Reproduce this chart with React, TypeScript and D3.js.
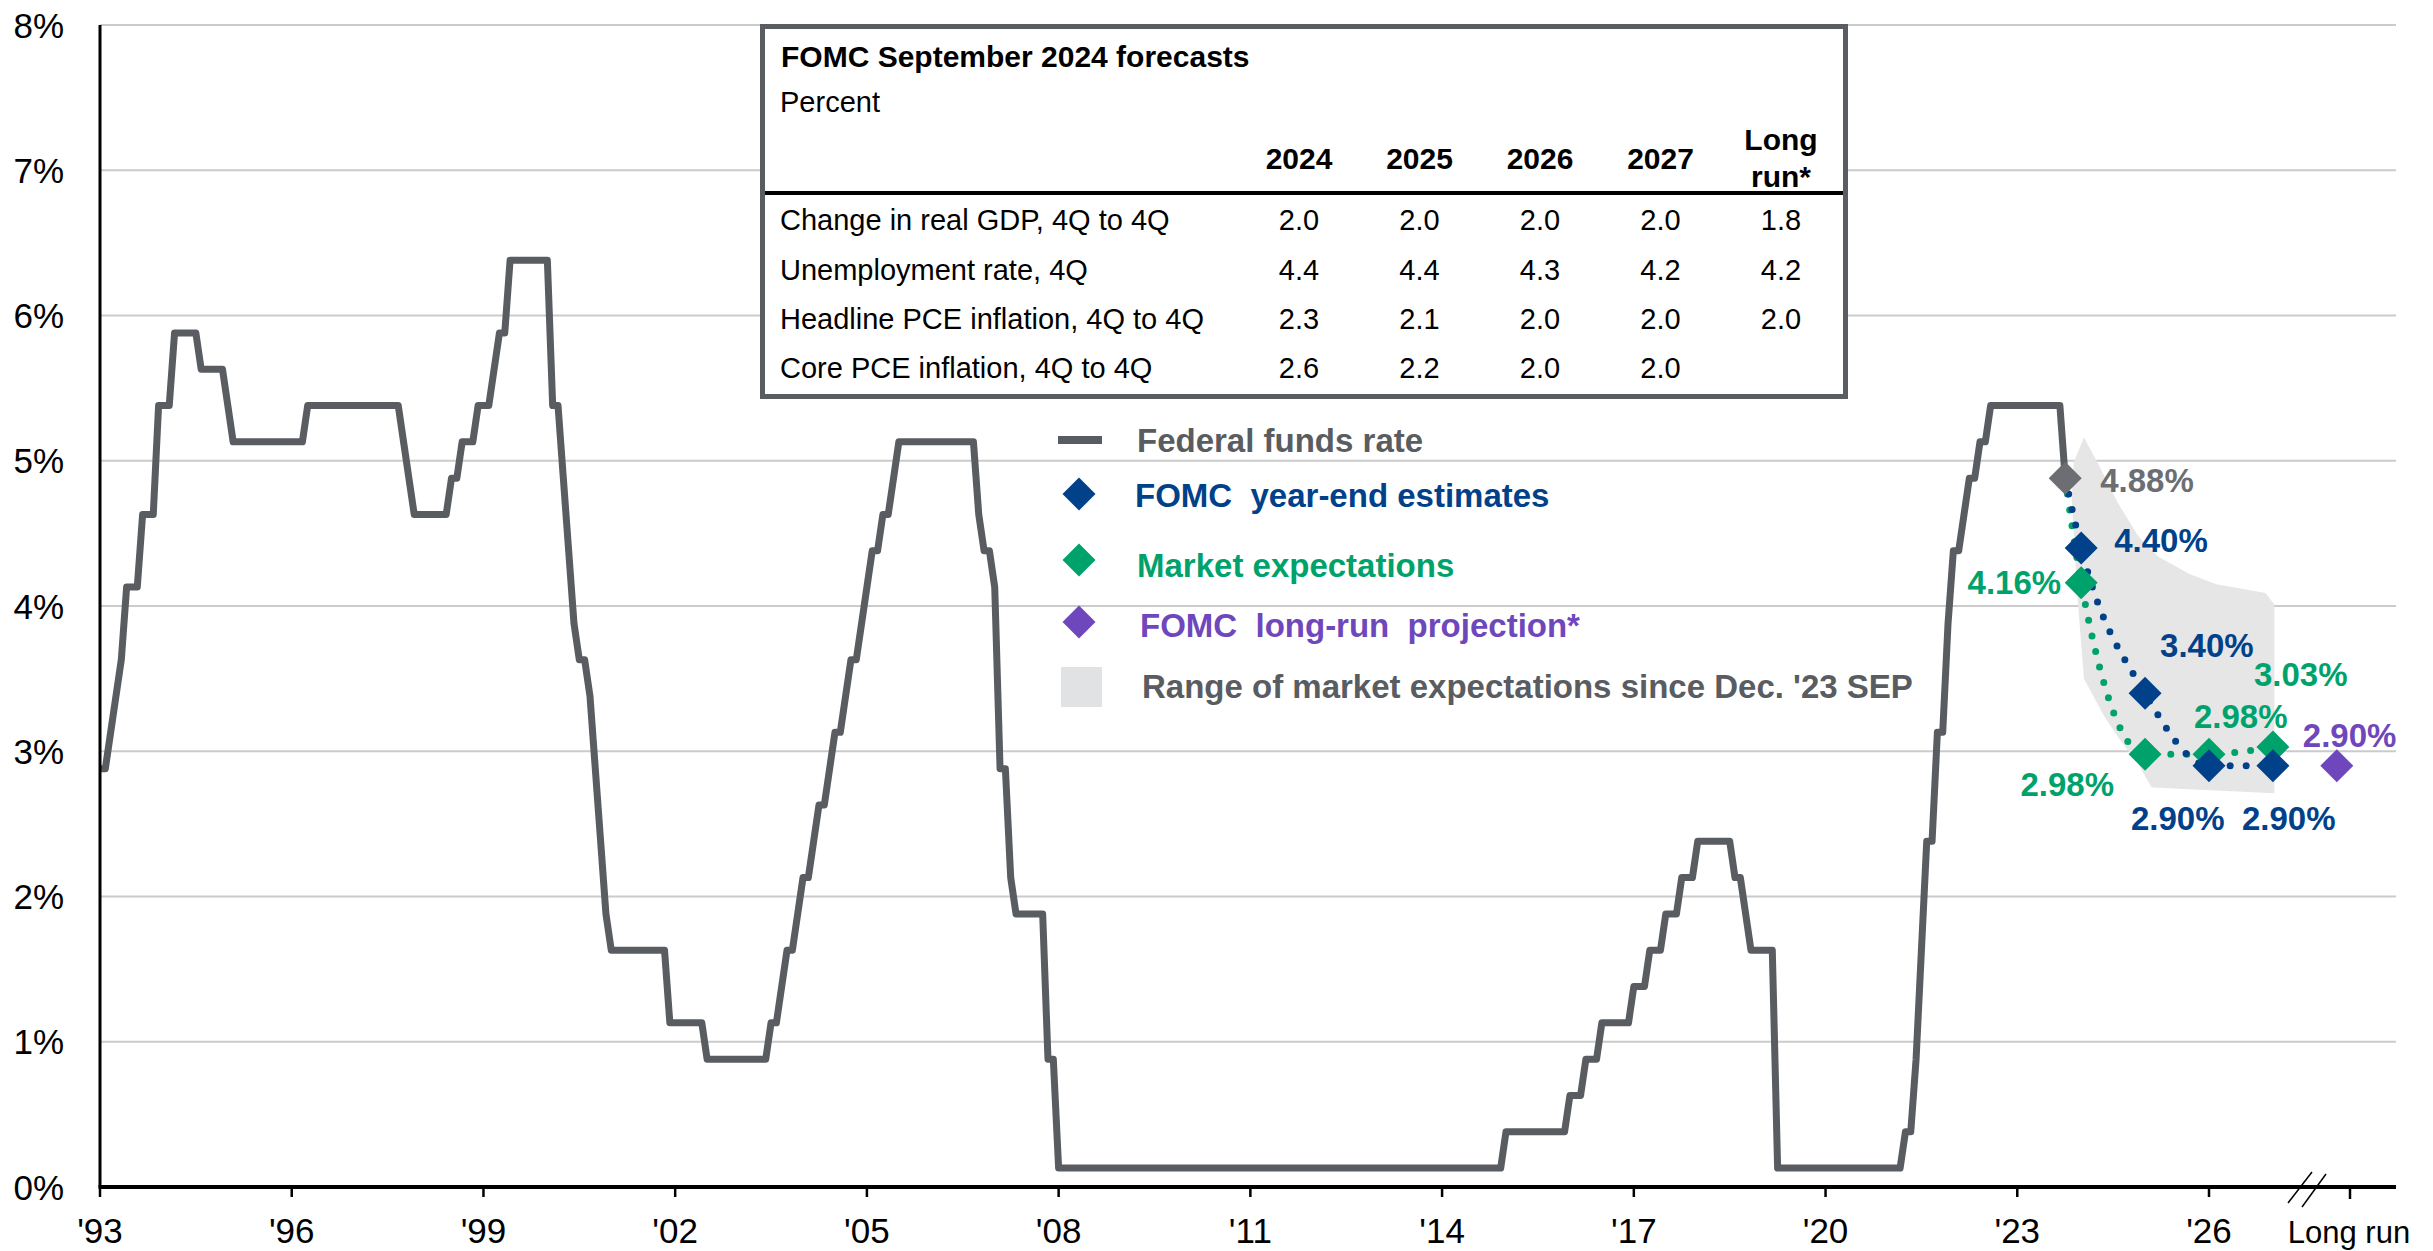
import React from 'react';
import * as d3 from 'd3';

const W = 2433;
const H = 1251;
const FONT = '"Liberation Sans", Arial, Helvetica, sans-serif';

// federal funds rate, month-end points where the line bends
const fedFundsRate: [string, number][] = [
  ['1993-12', 2.88], ['1994-01', 2.88], ['1994-02', 3.13], ['1994-03', 3.38], ['1994-04', 3.63],
  ['1994-05', 4.13], ['1994-07', 4.13], ['1994-08', 4.63], ['1994-10', 4.63], ['1994-11', 5.38],
  ['1995-01', 5.38], ['1995-02', 5.88], ['1995-06', 5.88], ['1995-07', 5.63], ['1995-11', 5.63],
  ['1995-12', 5.38], ['1996-01', 5.13], ['1997-02', 5.13], ['1997-03', 5.38], ['1998-08', 5.38],
  ['1998-09', 5.13], ['1998-10', 4.88], ['1998-11', 4.63], ['1999-05', 4.63], ['1999-06', 4.88],
  ['1999-07', 4.88], ['1999-08', 5.13], ['1999-10', 5.13], ['1999-11', 5.38], ['2000-01', 5.38],
  ['2000-02', 5.63], ['2000-03', 5.88], ['2000-04', 5.88], ['2000-05', 6.38], ['2000-12', 6.38],
  ['2001-01', 5.38], ['2001-02', 5.38], ['2001-03', 4.88], ['2001-04', 4.38], ['2001-05', 3.88],
  ['2001-06', 3.63], ['2001-07', 3.63], ['2001-08', 3.38], ['2001-09', 2.88], ['2001-10', 2.38],
  ['2001-11', 1.88], ['2001-12', 1.63], ['2002-10', 1.63], ['2002-11', 1.13], ['2003-05', 1.13],
  ['2003-06', 0.88], ['2004-05', 0.88], ['2004-06', 1.13], ['2004-07', 1.13], ['2004-08', 1.38],
  ['2004-09', 1.63], ['2004-10', 1.63], ['2004-11', 1.88], ['2004-12', 2.13], ['2005-01', 2.13],
  ['2005-02', 2.38], ['2005-03', 2.63], ['2005-04', 2.63], ['2005-05', 2.88], ['2005-06', 3.13],
  ['2005-07', 3.13], ['2005-08', 3.38], ['2005-09', 3.63], ['2005-10', 3.63], ['2005-11', 3.88],
  ['2005-12', 4.13], ['2006-01', 4.38], ['2006-02', 4.38], ['2006-03', 4.63], ['2006-04', 4.63],
  ['2006-05', 4.88], ['2006-06', 5.13], ['2007-08', 5.13], ['2007-09', 4.63], ['2007-10', 4.38],
  ['2007-11', 4.38], ['2007-12', 4.13], ['2008-01', 2.88], ['2008-02', 2.88], ['2008-03', 2.13],
  ['2008-04', 1.88], ['2008-09', 1.88], ['2008-10', 0.88], ['2008-11', 0.88], ['2008-12', 0.13],
  ['2015-11', 0.13], ['2015-12', 0.38], ['2016-11', 0.38], ['2016-12', 0.63], ['2017-02', 0.63],
  ['2017-03', 0.88], ['2017-05', 0.88], ['2017-06', 1.13], ['2017-11', 1.13], ['2017-12', 1.38],
  ['2018-02', 1.38], ['2018-03', 1.63], ['2018-05', 1.63], ['2018-06', 1.88], ['2018-08', 1.88],
  ['2018-09', 2.13], ['2018-11', 2.13], ['2018-12', 2.38], ['2019-06', 2.38], ['2019-07', 2.13],
  ['2019-08', 2.13], ['2019-09', 1.88], ['2019-10', 1.63], ['2020-02', 1.63], ['2020-03', 0.13],
  ['2022-02', 0.13], ['2022-03', 0.38], ['2022-04', 0.38], ['2022-05', 0.88], ['2022-06', 1.63],
  ['2022-07', 2.38], ['2022-08', 2.38], ['2022-09', 3.13], ['2022-10', 3.13], ['2022-11', 3.88],
  ['2022-12', 4.38], ['2023-01', 4.38], ['2023-02', 4.63], ['2023-03', 4.88], ['2023-04', 4.88],
  ['2023-05', 5.13], ['2023-06', 5.13], ['2023-07', 5.38], ['2024-08', 5.38], ['2024-09', 4.88],
];

const latestPoint: [string, number] = ['2024-09', 4.88];
const projDates = ['2024-12', '2025-12', '2026-12', '2027-12'];
const fomcMedian = [4.40, 3.40, 2.90, 2.90];
const marketExp = [4.16, 2.98, 2.98, 3.03];
const longRunDate = '2028-12';
const longRunValue = 2.90;

// outline of the grey band (decimal year, percent), clockwise from the top
const rangeOutline: [number, number][] = [
  [2024.96, 5.16], [2025.17, 4.99], [2025.49, 4.71], [2025.81, 4.48], [2026.12, 4.34],
  [2026.61, 4.22], [2027.03, 4.15], [2027.41, 4.12], [2027.80, 4.09], [2027.94, 4.01],
  [2027.94, 2.71], [2026.02, 2.75], [2025.81, 2.91], [2025.49, 3.10], [2025.28, 3.24],
  [2024.96, 3.50], [2024.85, 4.11], [2024.77, 4.74], [2024.80, 4.99],
];

const xTickYears = [1993, 1996, 1999, 2002, 2005, 2008, 2011, 2014, 2017, 2020, 2023, 2026];
const yTicks = [0, 1, 2, 3, 4, 5, 6, 7, 8];

const tableCols = ['2024', '2025', '2026', '2027'];
const tableRows = [
  'Change in real GDP, 4Q to 4Q',
  'Unemployment rate, 4Q',
  'Headline PCE inflation, 4Q to 4Q',
  'Core PCE inflation, 4Q to 4Q',
];
const tableValues = [
  ['2.0', '2.0', '2.0', '2.0', '1.8'],
  ['4.4', '4.4', '4.3', '4.2', '4.2'],
  ['2.3', '2.1', '2.0', '2.0', '2.0'],
  ['2.6', '2.2', '2.0', '2.0', ''],
];

const GREY = '#595c60';
const BLUE = '#00418a';
const GREEN = '#00a26c';
const PURPLE = '#6f47bd';
const DARKGREY = '#6d6e71';

const toYear = (s: string) => {
  const [y, m] = s.split('-').map(Number);
  return y + (m - 1) / 12;
};

const diamond = 'M0,-16.5L16.5,0L0,16.5L-16.5,0Z';

export default function App() {
  const x = d3.scaleLinear().domain([1993 + 11 / 12, 2026 + 11 / 12]).range([100, 2209]);
  const y = d3.scaleLinear().domain([0, 8]).range([1187, 25]);
  const xEnd = 2396;

  const line = d3.line<[number, number]>().x(d => x(d[0])).y(d => y(d[1]));
  const smooth = d3.line<[number, number]>().x(d => x(d[0])).y(d => y(d[1])).curve(d3.curveMonotoneX);

  const ffPts: [number, number][] = fedFundsRate.map(d => [toYear(d[0]), d[1]]);
  const start: [number, number] = [toYear(latestPoint[0]), latestPoint[1]];
  const fomcPts: [number, number][] = projDates.map((d, i) => [toYear(d), fomcMedian[i]]);
  const mktPts: [number, number][] = projDates.map((d, i) => [toYear(d), marketExp[i]]);
  const lrPt: [number, number] = [toYear(longRunDate), longRunValue];

  const rangePath = d3.line<[number, number]>().x(d => x(d[0])).y(d => y(d[1]))
    .curve(d3.curveLinearClosed)(rangeOutline);

  const labels = [
    { t: '4.88%', p: start, dx: 35, dy: 14, a: 'start', c: DARKGREY },
    { t: '4.40%', p: fomcPts[0], dx: 33, dy: 4, a: 'start', c: BLUE },
    { t: '4.16%', p: mktPts[0], dx: -20, dy: 11, a: 'end', c: GREEN },
    { t: '3.40%', p: fomcPts[1], dx: 15, dy: -36, a: 'start', c: BLUE },
    { t: '2.98%', p: mktPts[1], dx: -31, dy: 42, a: 'end', c: GREEN },
    { t: '2.98%', p: mktPts[2], dx: -15, dy: -26, a: 'start', c: GREEN },
    { t: '2.90%', p: fomcPts[2], dx: -78, dy: 64, a: 'start', c: BLUE },
    { t: '3.03%', p: mktPts[3], dx: -19, dy: -61, a: 'start', c: GREEN },
    { t: '2.90%', p: fomcPts[3], dx: -31, dy: 64, a: 'start', c: BLUE },
    { t: '2.90%', p: lrPt, dx: -34, dy: -19, a: 'start', c: PURPLE },
  ];

  const colX = [1299, 1419.5, 1540, 1660.5, 1781];
  const rowY = [230, 280, 329, 378];
  const longRunTickX = 2350;

  return (
    <svg width={W} height={H} style={{ position: 'absolute', left: 0, top: 0, background: '#fff' }}
      fontFamily={FONT}>
      {/* gridlines */}
      {yTicks.filter(v => v > 0).map(v => (
        <line key={v} x1={100} x2={xEnd} y1={y(v)} y2={y(v)} stroke="#cbcbcb" strokeWidth={2} />
      ))}

      {/* y labels */}
      {yTicks.map(v => (
        <text key={v} x={64} y={y(v)} dy="0.36em" textAnchor="end" fontSize={35} fill="#000">{v}%</text>
      ))}

      {/* range band */}
      <path d={rangePath || ''} fill="#e6e6e6" />

      {/* fed funds rate */}
      <path d={line(ffPts) || ''} fill="none" stroke={GREY} strokeWidth={7} strokeLinejoin="round" />

      {/* dotted paths */}
      <path d={smooth([start, ...mktPts]) || ''} fill="none" stroke={GREEN} strokeWidth={7}
        strokeLinecap="round" strokeDasharray="0 16" />
      <path d={smooth([start, ...fomcPts]) || ''} fill="none" stroke={BLUE} strokeWidth={7}
        strokeLinecap="round" strokeDasharray="0 16" />

      {mktPts.map((p, i) => (
        <path key={'m' + i} d={diamond} transform={`translate(${x(p[0])},${y(p[1])})`} fill={GREEN} />
      ))}
      {fomcPts.map((p, i) => (
        <path key={'f' + i} d={diamond} transform={`translate(${x(p[0])},${y(p[1])})`} fill={BLUE} />
      ))}
      <path d={diamond} transform={`translate(${x(lrPt[0])},${y(lrPt[1])})`} fill={PURPLE} />
      <path d={diamond} transform={`translate(${x(start[0])},${y(start[1])})`} fill={DARKGREY} />

      {labels.map((l, i) => (
        <text key={i} x={x(l.p[0]) + l.dx} y={y(l.p[1]) + l.dy} textAnchor={l.a as any}
          fontSize={33} fontWeight="bold" fill={l.c}>{l.t}</text>
      ))}

      {/* axes */}
      <line x1={100} x2={100} y1={25} y2={1187} stroke="#000" strokeWidth={3} />
      <line x1={98.5} x2={xEnd} y1={1187} y2={1187} stroke="#000" strokeWidth={4} />
      {xTickYears.map(yr => {
        const xx = x(yr + 11 / 12);
        return (
          <g key={yr}>
            <line x1={xx} x2={xx} y1={1187} y2={1197} stroke="#000" strokeWidth={2.5} />
            <text x={xx} y={1243} textAnchor="middle" fontSize={35} fill="#000">
              {"'" + String(yr).slice(2)}
            </text>
          </g>
        );
      })}
      <line x1={longRunTickX} x2={longRunTickX} y1={1187} y2={1199} stroke="#000" strokeWidth={2.5} />
      <text x={longRunTickX - 1} y={1243} textAnchor="middle" fontSize={31} fill="#000">Long run</text>
      <line x1={2288} y1={1203} x2={2312} y2={1172} stroke="#000" strokeWidth={1.5} />
      <line x1={2302} y1={1207} x2={2326} y2={1174} stroke="#000" strokeWidth={1.5} />

      {/* forecast table */}
      <rect x={762.5} y={26.5} width={1083} height={370} fill="#fff" stroke={GREY} strokeWidth={5} />
      <text x={781} y={67} fontSize={30} fontWeight="bold" fill="#000">FOMC September 2024 forecasts</text>
      <text x={780} y={112} fontSize={29} fill="#000">Percent</text>
      {tableCols.map((c, i) => (
        <text key={c} x={colX[i]} y={169} textAnchor="middle" fontSize={30} fontWeight="bold" fill="#000">{c}</text>
      ))}
      <text x={colX[4]} y={150} textAnchor="middle" fontSize={30} fontWeight="bold" fill="#000">Long</text>
      <text x={colX[4]} y={187} textAnchor="middle" fontSize={30} fontWeight="bold" fill="#000">run*</text>
      <line x1={765} x2={1843} y1={193} y2={193} stroke="#000" strokeWidth={4} />
      {tableRows.map((r, i) => (
        <g key={r}>
          <text x={780} y={rowY[i]} fontSize={29} fill="#000">{r}</text>
          {tableValues[i].map((v, j) => (
            <text key={j} x={colX[j]} y={rowY[i]} textAnchor="middle" fontSize={29} fill="#000">{v}</text>
          ))}
        </g>
      ))}

      {/* legend */}
      <g fontSize={33} fontWeight="bold">
        <rect x={1058} y={436} width={44} height={8} fill={GREY} />
        <text x={1137} y={452} fill={GREY}>Federal funds rate</text>
        <path d={diamond} transform="translate(1079,494)" fill={BLUE} />
        <text x={1135} y={507} fill={BLUE} xmlSpace="preserve">{'FOMC  year-end estimates'}</text>
        <path d={diamond} transform="translate(1079,560)" fill={GREEN} />
        <text x={1137} y={577} fill={GREEN}>Market expectations</text>
        <path d={diamond} transform="translate(1079,622)" fill={PURPLE} />
        <text x={1140} y={637} fill={PURPLE} xmlSpace="preserve">{'FOMC  long-run  projection*'}</text>
        <rect x={1061} y={667} width={41} height={40} fill="#e1e2e3" />
        <text x={1142} y={698} fill={GREY}>{"Range of market expectations since Dec. '23 SEP"}</text>
      </g>
    </svg>
  );
}
